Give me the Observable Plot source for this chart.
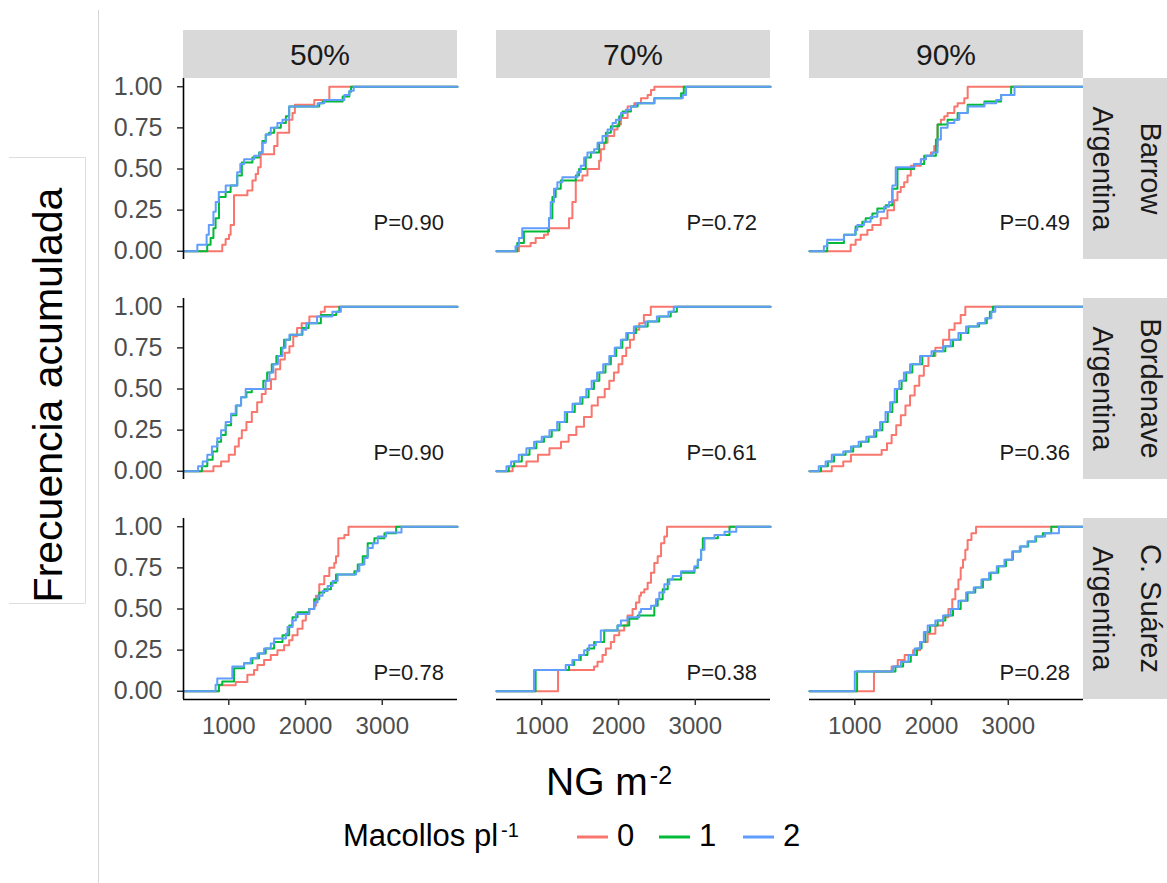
<!DOCTYPE html>
<html><head><meta charset="utf-8">
<script src="https://cdn.jsdelivr.net/npm/d3@7"></script>
<script src="https://cdn.jsdelivr.net/npm/@observablehq/plot@0.6"></script>
<style>
html,body{margin:0;padding:0;background:#fff;overflow:hidden;}
#wrap{position:relative;width:1167px;height:883px;font-family:"Liberation Sans",Arial,Helvetica,sans-serif;}
#wrap > svg{position:absolute;left:0;top:0;}
</style></head><body><div id="wrap"></div>
<script>
// ---------- categories / labels ----------
const sites = ["Barrow", "Bordenave", "C. Suárez"];
const siteCountry = ["Argentina", "Argentina", "Argentina"];
const densities = ["50%", "70%", "90%"];
const groups = ["0", "1", "2"];
const colors = ["#F8766D", "#00BA38", "#619CFF"];
const xTicks = [1000, 2000, 3000];
const yTicks = [0, 0.25, 0.5, 0.75, 1];
const xDomain = [410, 3980];
const yDomain = [-0.05, 1.05];

// P values per site (columns 50%, 70%, 90%)
const pBarrow = ["0.90", "0.72", "0.49"];
const pBordenave = ["0.90", "0.61", "0.36"];
const pSuarez = ["0.78", "0.38", "0.28"];
const pLabelX = 3345;
const pLabelY = [0.17, 0.11, 0.11];

// ---------- ECDF steps: [NG m-2, cumulative frequency] ----------
const barrow50_0 = [[915,0.04],[959,0.075],[1003,0.1],[1024,0.16],[1068,0.34],[1242,0.37],[1308,0.43],[1351,0.47],[1382,0.51],[1416,0.59],[1591,0.64],[1634,0.72],[1787,0.8],[1830,0.84],[1861,0.89],[2114,0.92],[2310,1.0]];
const barrow50_1 = [[719,0.04],[763,0.08],[800,0.14],[828,0.2],[872,0.33],[959,0.36],[1024,0.4],[1110,0.46],[1170,0.54],[1308,0.57],[1395,0.6],[1438,0.67],[1482,0.71],[1525,0.72],[1591,0.75],[1678,0.78],[1744,0.82],[1787,0.88],[2179,0.9],[2223,0.91],[2484,0.94],[2571,0.97],[2593,1.0]];
const barrow50_2 = [[590,0.04],[711,0.1],[740,0.16],[800,0.24],[830,0.3],[870,0.36],[960,0.4],[1110,0.48],[1150,0.53],[1200,0.56],[1330,0.58],[1400,0.6],[1440,0.66],[1482,0.71],[1547,0.75],[1634,0.78],[1700,0.8],[1787,0.88],[2157,0.9],[2245,0.92],[2506,0.95],[2571,0.975],[2628,1.0]];

const barrow70_0 = [[702,0.03],[854,0.05],[920,0.08],[1029,0.1],[1081,0.14],[1355,0.2],[1399,0.3],[1443,0.43],[1530,0.46],[1595,0.5],[1747,0.55],[1769,0.62],[1813,0.66],[1857,0.7],[1944,0.74],[1987,0.77],[2031,0.81],[2118,0.88],[2205,0.9],[2292,0.93],[2379,0.95],[2423,0.98],[2467,1.0]];
const barrow70_1 = [[680,0.05],[767,0.12],[1094,0.2],[1138,0.33],[1181,0.38],[1247,0.43],[1443,0.46],[1486,0.5],[1573,0.57],[1639,0.6],[1747,0.66],[1835,0.72],[1900,0.76],[2009,0.82],[2053,0.85],[2162,0.88],[2249,0.9],[2467,0.93],[2815,0.96],[2850,1.0]];
const barrow70_2 = [[658,0.03],[702,0.08],[745,0.14],[1094,0.2],[1116,0.3],[1159,0.38],[1203,0.42],[1268,0.45],[1464,0.48],[1508,0.52],[1552,0.57],[1595,0.6],[1682,0.62],[1726,0.66],[1791,0.7],[1857,0.74],[1922,0.78],[1966,0.8],[2031,0.84],[2096,0.86],[2162,0.88],[2227,0.9],[2467,0.93],[2837,0.95],[2880,1.0]];

const barrow90_0 = [[946,0.04],[1011,0.07],[1077,0.1],[1164,0.13],[1229,0.16],[1338,0.2],[1425,0.25],[1512,0.31],[1556,0.36],[1599,0.39],[1643,0.42],[1687,0.46],[1730,0.52],[1861,0.56],[1926,0.58],[1992,0.6],[2035,0.64],[2079,0.77],[2122,0.8],[2166,0.82],[2209,0.84],[2297,0.88],[2340,0.9],[2427,0.93],[2471,1.0]];
const barrow90_1 = [[641,0.05],[859,0.1],[1011,0.15],[1098,0.18],[1142,0.2],[1229,0.23],[1294,0.26],[1403,0.28],[1490,0.38],[1556,0.5],[1774,0.53],[1904,0.58],[2057,0.68],[2079,0.77],[2209,0.8],[2340,0.84],[2471,0.89],[2689,0.91],[2907,0.95],[3037,1.0]];
const barrow90_2 = [[597,0.03],[641,0.07],[859,0.1],[1005,0.13],[1033,0.16],[1120,0.18],[1207,0.21],[1294,0.24],[1382,0.27],[1447,0.3],[1490,0.4],[1534,0.51],[1774,0.53],[1861,0.56],[1926,0.58],[2014,0.6],[2079,0.68],[2122,0.75],[2209,0.78],[2297,0.8],[2362,0.84],[2471,0.88],[2689,0.9],[2842,0.92],[2907,0.95],[3081,1.0]];

const bordenave50_0 = [[800,0.03],[900,0.06],[1000,0.1],[1080,0.15],[1130,0.2],[1170,0.25],[1230,0.3],[1300,0.36],[1370,0.42],[1430,0.47],[1480,0.5],[1550,0.56],[1610,0.62],[1670,0.68],[1730,0.72],[1790,0.76],[1840,0.82],[1890,0.87],[1950,0.9],[2050,0.94],[2200,0.97],[2250,1.0]];
const bordenave50_1 = [[650,0.03],[720,0.07],[790,0.12],[850,0.18],[900,0.22],[960,0.28],[1030,0.34],[1100,0.4],[1160,0.45],[1230,0.48],[1300,0.5],[1450,0.55],[1500,0.6],[1560,0.65],[1620,0.7],[1680,0.75],[1720,0.8],[1800,0.83],[1960,0.87],[2040,0.9],[2200,0.95],[2400,0.97],[2440,1.0]];
const bordenave50_2 = [[600,0.03],[660,0.06],[720,0.1],[780,0.15],[850,0.2],[900,0.25],[960,0.3],[1030,0.35],[1090,0.4],[1160,0.45],[1220,0.5],[1480,0.55],[1530,0.6],[1580,0.65],[1640,0.7],[1700,0.75],[1740,0.8],[1790,0.83],[1950,0.86],[2010,0.9],[2150,0.94],[2350,0.97],[2460,1.0]];

const bordenave70_0 = [[620,0.03],[800,0.06],[950,0.1],[1100,0.14],[1250,0.18],[1350,0.22],[1450,0.27],[1550,0.33],[1650,0.4],[1730,0.45],[1820,0.5],[1880,0.55],[1940,0.6],[2000,0.65],[2050,0.7],[2100,0.75],[2150,0.8],[2200,0.86],[2270,0.9],[2330,0.95],[2420,1.0]];
const bordenave70_1 = [[570,0.03],[640,0.06],[740,0.1],[840,0.14],[930,0.18],[1030,0.21],[1130,0.25],[1230,0.3],[1330,0.36],[1430,0.41],[1530,0.45],[1610,0.5],[1680,0.55],[1750,0.6],[1830,0.65],[1900,0.7],[1970,0.75],[2050,0.8],[2120,0.84],[2230,0.88],[2380,0.91],[2530,0.94],[2680,0.97],[2760,1.0]];
const bordenave70_2 = [[540,0.03],[600,0.06],[700,0.1],[800,0.14],[900,0.18],[1000,0.21],[1100,0.25],[1200,0.3],[1300,0.36],[1400,0.41],[1500,0.45],[1580,0.5],[1650,0.55],[1720,0.6],[1800,0.65],[1880,0.7],[1950,0.75],[2030,0.8],[2100,0.84],[2200,0.88],[2350,0.91],[2500,0.94],[2650,0.97],[2720,1.0]];

const bordenave90_0 = [[700,0.03],[850,0.06],[950,0.1],[1350,0.13],[1420,0.17],[1480,0.22],[1540,0.28],[1600,0.34],[1660,0.4],[1720,0.46],[1780,0.52],[1840,0.58],[1900,0.64],[1960,0.7],[2050,0.75],[2150,0.8],[2230,0.86],[2300,0.9],[2380,0.95],[2440,1.0]];
const bordenave90_1 = [[560,0.03],[650,0.06],[730,0.1],[880,0.12],[980,0.15],[1080,0.18],[1180,0.21],[1280,0.25],[1360,0.3],[1430,0.36],[1490,0.42],[1550,0.5],[1610,0.55],[1670,0.6],[1750,0.65],[1880,0.7],[2030,0.73],[2180,0.76],[2280,0.8],[2380,0.84],[2480,0.88],[2620,0.9],[2720,0.93],[2760,0.97],[2800,1.0]];
const bordenave90_2 = [[530,0.03],[620,0.06],[700,0.1],[850,0.12],[950,0.15],[1050,0.18],[1150,0.21],[1250,0.25],[1330,0.3],[1400,0.36],[1460,0.42],[1520,0.5],[1580,0.55],[1640,0.6],[1720,0.65],[1850,0.7],[2000,0.73],[2150,0.76],[2250,0.8],[2350,0.84],[2450,0.88],[2600,0.9],[2700,0.93],[2780,0.97],[2830,1.0]];

const suarez50_0 = [[870,0.036],[1090,0.057],[1242,0.1],[1329,0.13],[1373,0.16],[1460,0.19],[1547,0.22],[1634,0.25],[1721,0.28],[1787,0.31],[1830,0.34],[1896,0.38],[1961,0.43],[2004,0.47],[2048,0.5],[2113,0.52],[2135,0.58],[2179,0.65],[2244,0.7],[2310,0.75],[2375,0.78],[2397,0.82],[2427,0.93],[2506,0.95],[2560,1.0]];
const suarez50_1 = [[872,0.04],[915,0.06],[1068,0.14],[1199,0.17],[1308,0.2],[1394,0.23],[1481,0.26],[1591,0.3],[1700,0.34],[1787,0.4],[1830,0.45],[1896,0.48],[2048,0.5],[2113,0.56],[2179,0.6],[2244,0.62],[2331,0.66],[2397,0.71],[2636,0.73],[2680,0.77],[2745,0.82],[2810,0.9],[2897,0.93],[3028,0.96],[3180,1.0]];
const suarez50_2 = [[828,0.04],[850,0.077],[1046,0.15],[1199,0.17],[1286,0.2],[1373,0.23],[1460,0.26],[1547,0.29],[1591,0.32],[1744,0.35],[1765,0.39],[1830,0.43],[1874,0.47],[2048,0.5],[2113,0.54],[2157,0.58],[2222,0.61],[2288,0.64],[2353,0.67],[2418,0.71],[2658,0.73],[2701,0.77],[2767,0.81],[2810,0.87],[2876,0.9],[2941,0.94],[3050,0.965],[3250,1.0]];

const suarez70_0 = [[1212,0.13],[1682,0.15],[1726,0.18],[1791,0.22],[1835,0.26],[1900,0.3],[1944,0.34],[2009,0.37],[2074,0.4],[2118,0.46],[2183,0.5],[2227,0.54],[2271,0.58],[2292,0.6],[2336,0.62],[2379,0.66],[2423,0.72],[2466,0.78],[2510,0.82],[2554,0.9],[2597,0.94],[2632,1.0]];
const suarez70_1 = [[920,0.13],[1355,0.16],[1421,0.19],[1508,0.22],[1595,0.26],[1682,0.3],[1813,0.37],[1987,0.4],[2140,0.44],[2249,0.46],[2466,0.52],[2510,0.56],[2575,0.62],[2641,0.68],[2815,0.72],[2989,0.75],[3033,0.8],[3076,0.86],[3098,0.93],[3294,0.95],[3446,1.0]];
const suarez70_2 = [[898,0.13],[1312,0.16],[1399,0.19],[1486,0.22],[1552,0.25],[1617,0.28],[1704,0.3],[1769,0.37],[1987,0.4],[2031,0.43],[2118,0.45],[2271,0.48],[2292,0.5],[2423,0.52],[2488,0.56],[2532,0.6],[2597,0.65],[2662,0.68],[2706,0.7],[2815,0.73],[2989,0.76],[3033,0.8],[3076,0.86],[3120,0.93],[3250,0.95],[3381,0.97],[3534,1.0]];

const suarez90_0 = [[1250,0.12],[1480,0.15],[1560,0.19],[1650,0.22],[1760,0.25],[1850,0.3],[1950,0.35],[2050,0.4],[2150,0.45],[2220,0.5],[2270,0.56],[2310,0.62],[2350,0.68],[2380,0.75],[2410,0.8],[2440,0.86],[2470,0.92],[2520,0.96],[2580,1.0]];
const suarez90_1 = [[1030,0.12],[1530,0.15],[1630,0.18],[1730,0.22],[1810,0.26],[1870,0.3],[1920,0.36],[1980,0.4],[2080,0.43],[2180,0.46],[2280,0.5],[2380,0.55],[2470,0.6],[2570,0.63],[2670,0.68],[2770,0.72],[2870,0.76],[2970,0.8],[3060,0.85],[3160,0.88],[3260,0.91],[3360,0.94],[3450,0.96],[3560,1.0]];
const suarez90_2 = [[1000,0.12],[1500,0.15],[1600,0.18],[1700,0.22],[1780,0.26],[1850,0.3],[1900,0.36],[1950,0.4],[2050,0.43],[2150,0.46],[2250,0.5],[2350,0.55],[2450,0.6],[2550,0.63],[2650,0.68],[2750,0.72],[2850,0.76],[2950,0.8],[3050,0.85],[3150,0.88],[3250,0.91],[3350,0.94],[3480,0.96],[3660,1.0]];

// ---------- assemble ----------
const seriesBySite = [
  [[barrow50_0, barrow50_1, barrow50_2], [barrow70_0, barrow70_1, barrow70_2], [barrow90_0, barrow90_1, barrow90_2]],
  [[bordenave50_0, bordenave50_1, bordenave50_2], [bordenave70_0, bordenave70_1, bordenave70_2], [bordenave90_0, bordenave90_1, bordenave90_2]],
  [[suarez50_0, suarez50_1, suarez50_2], [suarez70_0, suarez70_1, suarez70_2], [suarez90_0, suarez90_1, suarez90_2]]
];
const pBySite = [pBarrow, pBordenave, pSuarez];

const lineData = [];
const pData = [];
sites.forEach((site, si) => {
  densities.forEach((dens, di) => {
    groups.forEach((g, gi) => {
      const pts = seriesBySite[si][di][gi];
      const key = site + "|" + dens + "|" + g;
      lineData.push({site, dens, g, key, x: xDomain[0], y: 0});
      for (const [x, y] of pts) lineData.push({site, dens, g, key, x, y});
      lineData.push({site, dens, g, key, x: xDomain[1], y: pts[pts.length - 1][1]});
    });
    pData.push({site, dens, x: pLabelX, y: pLabelY[si], label: "P=" + pBySite[si][di]});
  });
});

const FONT = '"Liberation Sans", Arial, Helvetica, sans-serif';
const plot = Plot.plot({
  width: 1167,
  height: 745,
  marginTop: 77,
  marginBottom: 46,
  marginLeft: 183,
  marginRight: 84,
  style: {fontFamily: FONT, background: "transparent", overflow: "visible"},
  fx: {domain: densities, axis: null, paddingInner: 39 / 313, paddingOuter: 0, label: null},
  fy: {domain: sites, axis: null, paddingInner: 39 / 220, paddingOuter: 0, label: null},
  x: {domain: xDomain, label: null},
  y: {domain: yDomain, label: null},
  color: {domain: groups, range: colors},
  marks: [
    Plot.line(lineData, {fx: "dens", fy: "site", x: "x", y: "y", z: "key", stroke: "g", curve: "step-after", strokeWidth: 2}),
    Plot.text(pData, {fx: "dens", fy: "site", x: "x", y: "y", text: "label", fontSize: 22, fill: "#1a1a1a"}),
    Plot.ruleX([xDomain[0]], {facetAnchor: "left", stroke: "#000", strokeWidth: 1.6}),
    Plot.ruleY([yDomain[0]], {facetAnchor: "bottom", stroke: "#000", strokeWidth: 1.6}),
    Plot.axisX({ticks: xTicks, tickFormat: d => String(d), tickSize: 6, tickPadding: 11, fontSize: 24, fill: "#4d4d4d", stroke: "#333", strokeWidth: 1.5, label: null}),
    Plot.axisY({ticks: yTicks, tickFormat: d => d.toFixed(2), tickSize: 6, tickPadding: 15, fontSize: 25, fill: "#4d4d4d", stroke: "#333", strokeWidth: 1.5, label: null})
  ]
});
const wrap = document.getElementById("wrap");
wrap.appendChild(plot);

// ---------- overlay: strips, titles, legend ----------
const fxS = plot.scale("fx"), fyS = plot.scale("fy");
const bwX = fxS.bandwidth, bwY = fyS.bandwidth;
const ov = d3.select(wrap).append("svg")
  .attr("width", 1167).attr("height", 883)
  .style("pointer-events", "none").style("font-family", FONT);

// frame lines around y title (from the original slide)
ov.append("line").attr("x1", 98.5).attr("x2", 98.5).attr("y1", 10).attr("y2", 883).attr("stroke", "#d4d4d4").attr("stroke-width", 1);
ov.append("path").attr("d", "M9,157.5H85.5V603.5H9").attr("fill", "none").attr("stroke", "#dedede").attr("stroke-width", 1);

const panelTop = fyS.apply(sites[0]);
densities.forEach(d => {
  const x0 = fxS.apply(d);
  ov.append("rect").attr("x", x0).attr("y", panelTop - 48).attr("width", bwX).attr("height", 48).attr("fill", "#d9d9d9");
  ov.append("text").attr("x", x0 + bwX / 2).attr("y", panelTop - 13).attr("text-anchor", "middle")
    .attr("font-size", 30).attr("fill", "#1a1a1a").text(d);
});
const stripX = fxS.apply(densities[densities.length - 1]) + bwX;
sites.forEach((s, i) => {
  const y0 = fyS.apply(s);
  ov.append("rect").attr("x", stripX).attr("y", y0).attr("width", 120).attr("height", bwY).attr("fill", "#d9d9d9");
  const g = ov.append("g").attr("transform", `translate(1117,${y0 + bwY / 2}) rotate(90)`);
  g.append("text").attr("x", 0).attr("y", -24).attr("text-anchor", "middle").attr("font-size", 29).attr("fill", "#1a1a1a").text(s);
  g.append("text").attr("x", 0).attr("y", 24).attr("text-anchor", "middle").attr("font-size", 29).attr("fill", "#1a1a1a").text(siteCountry[i]);
});

// y title
ov.append("text").attr("transform", "translate(62,395) rotate(-90)").attr("text-anchor", "middle")
  .attr("font-size", 41).attr("fill", "#000").text("Frecuencia acumulada");

// x title
const xt = ov.append("text").attr("x", 546).attr("y", 795).attr("font-size", 39).attr("fill", "#000");
xt.append("tspan").text("NG m");
xt.append("tspan").attr("font-size", 25).attr("dy", -11).attr("dx", 2).text("-2");

// legend
const lt = ov.append("text").attr("x", 343).attr("y", 846).attr("font-size", 31).attr("fill", "#000");
lt.append("tspan").text("Macollos pl");
lt.append("tspan").attr("font-size", 20).attr("dy", -9).attr("dx", 3).text("-1");
const keyX = [577, 659, 743];
groups.forEach((g, i) => {
  ov.append("line").attr("x1", keyX[i]).attr("x2", keyX[i] + 31).attr("y1", 837).attr("y2", 837)
    .attr("stroke", colors[i]).attr("stroke-width", 3);
  ov.append("text").attr("x", keyX[i] + 40).attr("y", 846).attr("font-size", 31).attr("fill", "#000").text(g);
});
</script></body></html>
